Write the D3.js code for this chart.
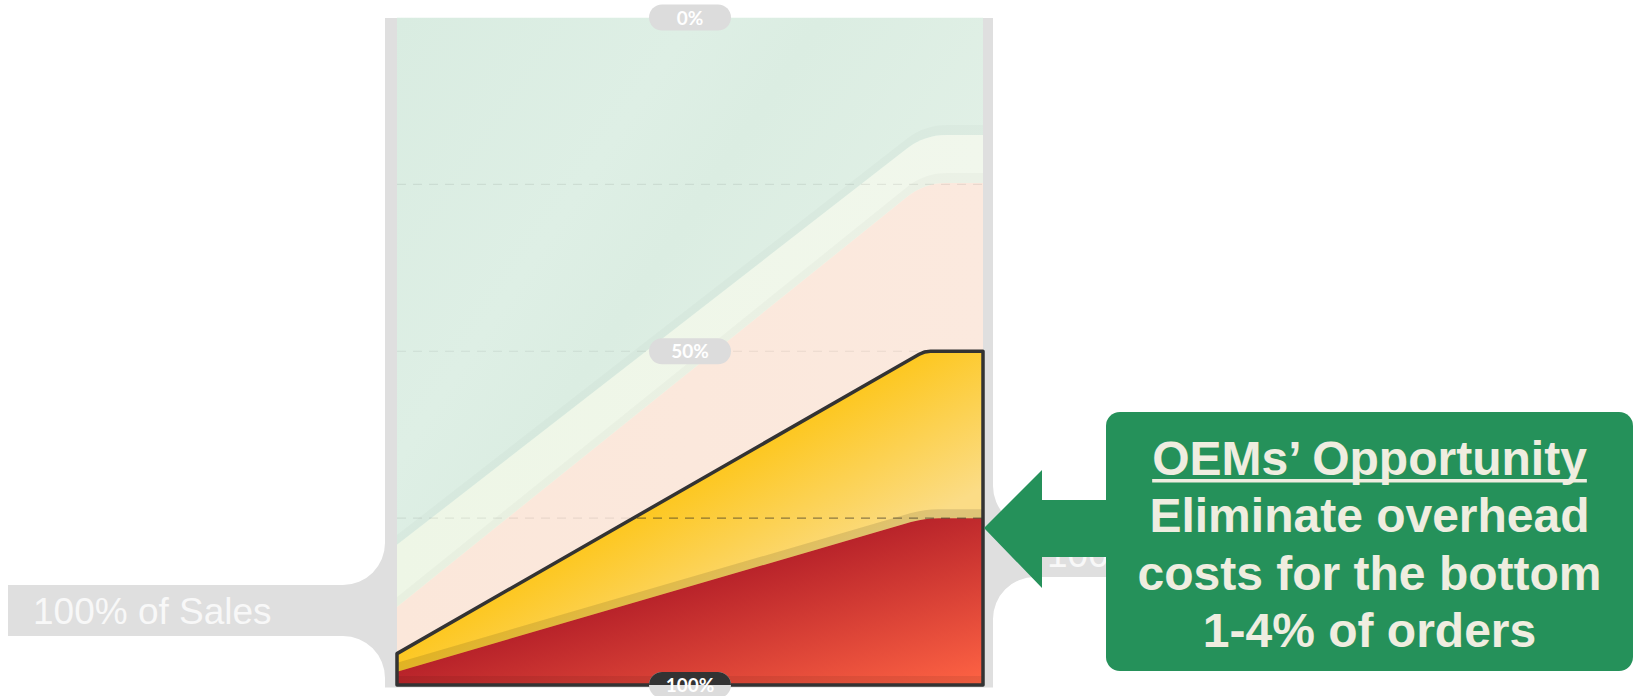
<!DOCTYPE html>
<html>
<head>
<meta charset="utf-8">
<script src="https://cdn.jsdelivr.net/npm/d3@7"></script>
<style>
  html, body { margin: 0; padding: 0; background: #ffffff; }
  svg { display: block; }
</style>
</head>
<body>
<svg id="chart" width="1639" height="696"></svg>
<script>
// ---------------- DATA ----------------
// share of orders (x, %) at which each boundary bends
const orderShare = [0, 90, 100];
// cumulative share of sales (%, 0 at top, 100 at bottom) for each layer's upper boundary
const mintTop       = [0, 0, 0];
const lightGreenTop = [79, 17.6, 17.6];
const peachTop      = [88.3, 24.8, 24.8];
const yellowTop     = [95.3, 50, 50];
const redTop        = [98, 75, 75];
const floorTop      = [100, 100, 100];
// axis
const tickValues = [0, 50, 100];
const tickLabels = ["0%", "50%", "100%"];
const gridValues = [25, 50, 75];
// texts
const leftBandLabel = "100% of Sales";
const rightBandLabel = "100%";
const calloutTitle = "OEMs\u2019 Opportunity";
const calloutLines = ["Eliminate overhead", "costs for the bottom", "1-4% of orders"];

// ---------------- LAYOUT / STYLE ----------------
const plot = { left: 397, right: 983, top: 17.5, bottom: 685 };
const x = d3.scaleLinear().domain([0, 100]).range([plot.left, plot.right]);
const y = d3.scaleLinear().domain([0, 100]).range([plot.top, plot.bottom]);
const grayBand = "#dfdfdf";
const green = "#25915a";
const cream = "#efede0";

const svg = d3.select("#chart");
const defs = svg.append("defs");

// rounded-corner curve built on d3's curve protocol
function curveRounded(radius) {
  function Rounded(context) { this._context = context; }
  Rounded.prototype = {
    areaStart() { this._line = 0; },
    areaEnd() { this._line = NaN; },
    lineStart() { this._pts = []; },
    point(px, py) { this._pts.push([+px, +py]); },
    lineEnd() {
      const p = this._pts, c = this._context, n = p.length;
      if (n) {
        if (this._line) c.lineTo(p[0][0], p[0][1]); else c.moveTo(p[0][0], p[0][1]);
        for (let i = 1; i < n - 1; i++) {
          const [x0, y0] = p[i - 1], [x1, y1] = p[i], [x2, y2] = p[i + 1];
          const d1 = Math.hypot(x1 - x0, y1 - y0), d2 = Math.hypot(x2 - x1, y2 - y1);
          if (d1 < 1e-6 || d2 < 1e-6) { c.lineTo(x1, y1); continue; }
          const r = Math.min(radius, d1 / 2, d2 / 2);
          c.lineTo(x1 - (x1 - x0) / d1 * r, y1 - (y1 - y0) / d1 * r);
          c.quadraticCurveTo(x1, y1, x1 + (x2 - x1) / d2 * r, y1 + (y2 - y1) / d2 * r);
        }
        if (n > 1) c.lineTo(p[n - 1][0], p[n - 1][1]);
      }
      if (this._line || (this._line !== 0 && n === 1)) c.closePath();
      this._line = 1 - this._line;
    }
  };
  return ctx => new Rounded(ctx);
}

function rows(tops) { return orderShare.map((s, i) => ({ s, v: tops[i] })); }

const layerArea = (r) => d3.area().curve(curveRounded(r))
  .x(d => x(d.s)).y0(y(100)).y1(d => y(d.v));
const shadowArea = (r, shift) => d3.area().curve(curveRounded(r))
  .x(d => x(d.s)).y0(d => y(d.v)).y1(d => y(d.v) - shift);

// gradients
function linGrad(id, x1, y1, x2, y2, stops) {
  const g = defs.append("linearGradient").attr("id", id)
    .attr("gradientUnits", "userSpaceOnUse")
    .attr("x1", x1).attr("y1", y1).attr("x2", x2).attr("y2", y2);
  stops.forEach(([o, c]) => g.append("stop").attr("offset", o).attr("stop-color", c));
}
linGrad("gMint", plot.left, plot.top, plot.right, plot.bottom * 0.6,
  [[0, "#d9ece1"], [0.35, "#deefe5"], [0.5, "#dbede2"], [0.8, "#e1f0e6"], [1, "#e3f1e8"]]);
linGrad("gLight", plot.left, 300, plot.right, 300, [[0, "#eef6e6"], [1, "#f1f7ec"]]);
linGrad("gPeach", plot.left, 300, plot.right, 300, [[0, "#fbe7da"], [1, "#fbe9de"]]);
// yellow: saturated along its upper edge, lighter towards the lower right
linGrad("gYellow", 660, 500, 660 + 0.497 * 150, 500 + 0.868 * 150,
  [[0, "#fdc71f"], [1, "#fbdc86"]]);
// red: dark along its upper edge, orange towards the bottom right
linGrad("gRed", 660, 594, 660 + 0.284 * 180, 594 + 0.958 * 180,
  [[0, "#b8232a"], [1, "#ff6444"]]);

const focusR = 6;
defs.append("clipPath").attr("id", "plotClip").append("rect")
  .attr("x", plot.left).attr("y", plot.top)
  .attr("width", plot.right - plot.left).attr("height", plot.bottom - plot.top);
defs.append("clipPath").attr("id", "focusClip").append("path")
  .attr("d", layerArea(focusR)(rows(yellowTop)));
defs.append("clipPath").attr("id", "pillTopClip").append("rect")
  .attr("x", 0).attr("y", 0).attr("width", 1639).attr("height", plot.bottom);

// ---------------- GRAY FRAME & CONNECTOR BANDS ----------------
const frame = svg.append("g");
frame.append("rect").attr("x", plot.left - 12).attr("y", plot.top + 0.5)
  .attr("width", plot.right - plot.left + 22).attr("height", plot.bottom - plot.top + 2)
  .attr("fill", grayBand);

function connector(side, bandTop, bandBottom, outerX) {
  const edge = side === "left" ? plot.left - 12 : plot.right + 10;
  const R = 42;
  const s = side === "left" ? -1 : 1;
  const bx = Math.min(edge, outerX), bw = Math.abs(outerX - edge);
  frame.append("rect").attr("x", bx).attr("y", bandTop).attr("width", bw)
    .attr("height", bandBottom - bandTop).attr("fill", grayBand);
  const p1 = d3.path();
  p1.moveTo(edge + s * R, bandTop);
  p1.lineTo(edge, bandTop);
  p1.lineTo(edge, bandTop - R);
  p1.arc(edge + s * R, bandTop - R, R, side === "left" ? 0 : Math.PI, Math.PI / 2, side !== "left");
  p1.closePath();
  frame.append("path").attr("d", p1.toString()).attr("fill", grayBand);
  const p2 = d3.path();
  p2.moveTo(edge + s * R, bandBottom);
  p2.lineTo(edge, bandBottom);
  p2.lineTo(edge, bandBottom + R);
  p2.arc(edge + s * R, bandBottom + R, R, side === "left" ? 0 : Math.PI, -Math.PI / 2, side === "left");
  p2.closePath();
  frame.append("path").attr("d", p2.toString()).attr("fill", grayBand);
}
connector("left", 585, 636, 8);
connector("right", 528, 577, 1120);

svg.append("text").attr("x", 33).attr("y", 624)
  .attr("font-family", "'Liberation Sans', Arial, sans-serif").attr("font-size", 37)
  .attr("fill", "#f8f8f8").text(leftBandLabel);
svg.append("text").attr("x", 1047).attr("y", 567)
  .attr("font-family", "'Liberation Sans', Arial, sans-serif").attr("font-size", 37)
  .attr("fill", "#f8f8f8").text(rightBandLabel);

// ---------------- LAYERS ----------------
const layers = [
  { tops: mintTop,       fill: "url(#gMint)",   r: 20, shadow: 0,  alpha: 0 },
  { tops: lightGreenTop, fill: "url(#gLight)",  r: 22, shadow: 10, alpha: 0.018 },
  { tops: peachTop,      fill: "url(#gPeach)",  r: 22, shadow: 10, alpha: 0.022 },
  { tops: yellowTop,     fill: "url(#gYellow)", r: focusR, shadow: 0, alpha: 0 },
  { tops: redTop,        fill: "url(#gRed)",    r: 14, shadow: 9,  alpha: 0.11 },
  { tops: floorTop,      fill: "none",          r: 0,  shadow: 9,  alpha: 0.07 }
];
const plotG = svg.append("g").attr("clip-path", "url(#plotClip)");
layers.forEach((L, i) => {
  const data = rows(L.tops);
  if (L.shadow) {
    plotG.append("path").attr("d", shadowArea(L.r, L.shadow)(data))
      .attr("fill", `rgba(0,0,0,${L.alpha})`);
  }
  if (L.fill !== "none") {
    plotG.append("path").attr("d", layerArea(L.r)(data)).attr("fill", L.fill);
  }
  if (i === 2) {
    plotG.selectAll(".grid").data(gridValues).enter().append("line")
      .attr("x1", plot.left).attr("x2", plot.right)
      .attr("y1", d => y(d)).attr("y2", d => y(d))
      .attr("stroke", "rgba(0,0,0,0.07)").attr("stroke-width", 1.2)
      .attr("stroke-dasharray", "9,7");
  }
});
svg.append("g").attr("clip-path", "url(#focusClip)")
  .selectAll("line").data(gridValues).enter().append("line")
  .attr("x1", plot.left).attr("x2", plot.right)
  .attr("y1", d => y(d)).attr("y2", d => y(d))
  .attr("stroke", "rgba(50,45,35,0.55)").attr("stroke-width", 1.4)
  .attr("stroke-dasharray", "9,7");

svg.append("path").attr("d", layerArea(focusR)(rows(yellowTop)))
  .attr("fill", "none").attr("stroke", "#333333").attr("stroke-width", 3.5)
  .attr("stroke-linejoin", "round");

// ---------------- AXIS PILLS ----------------
const pillW = 82, pillH = 26, pillX = x(50);
function pill(g, v, label, fill) {
  g.append("rect").attr("x", pillX - pillW / 2).attr("y", y(v) - pillH / 2)
    .attr("width", pillW).attr("height", pillH).attr("rx", pillH / 2)
    .attr("fill", fill);
  g.append("text").attr("x", pillX).attr("y", y(v) + 7)
    .attr("text-anchor", "middle").attr("font-family", "Lato, 'Open Sans', sans-serif")
    .attr("font-weight", 700).attr("font-size", 19).attr("fill", "#ffffff").text(label);
}
tickValues.forEach((v, i) => {
  pill(svg.append("g"), v, tickLabels[i], "#dcdcdc");
  if (v === 100) pill(svg.append("g").attr("clip-path", "url(#pillTopClip)"), v, tickLabels[i], "#333333");
});

// ---------------- CALLOUT ----------------
const arrow = d3.path();
arrow.moveTo(984, 528);
arrow.lineTo(1042, 470);
arrow.lineTo(1042, 500);
arrow.lineTo(1112, 500);
arrow.lineTo(1112, 557);
arrow.lineTo(1042, 557);
arrow.lineTo(1042, 588);
arrow.closePath();
svg.append("path").attr("d", arrow.toString()).attr("fill", green);

svg.append("rect").attr("x", 1106).attr("y", 412).attr("width", 527).attr("height", 259)
  .attr("rx", 14).attr("fill", green);

const cx = 1369.5;
const baselines = [475, 532, 590, 647];
const tTitle = svg.append("text").attr("x", cx).attr("y", baselines[0])
  .attr("text-anchor", "middle").attr("font-family", "'Liberation Sans', Arial, sans-serif")
  .attr("font-weight", 700).attr("font-size", 48).attr("fill", cream).text(calloutTitle);
const tw = tTitle.node().getComputedTextLength();
svg.append("rect").attr("x", cx - tw / 2).attr("y", baselines[0] + 4)
  .attr("width", tw).attr("height", 3.5).attr("fill", cream);
calloutLines.forEach((line, i) => {
  svg.append("text").attr("x", cx).attr("y", baselines[i + 1])
    .attr("text-anchor", "middle").attr("font-family", "'Liberation Sans', Arial, sans-serif")
    .attr("font-weight", 700).attr("font-size", 48).attr("fill", cream).text(line);
});
</script>
</body>
</html>
